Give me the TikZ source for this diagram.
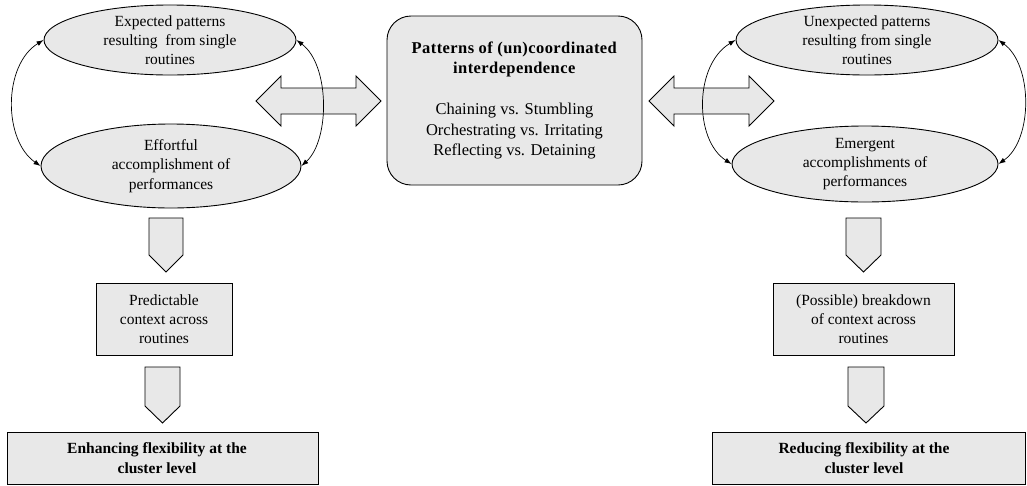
\documentclass[tikz,border=0pt]{standalone}
\usepackage{fontspec}
\setmainfont{Liberation Serif}
\usetikzlibrary{shapes.geometric,arrows.meta}
\definecolor{boxgray}{RGB}{232,232,232}
\begin{document}
\begin{tikzpicture}[x=1pt,y=-1pt,
  fillc/.style={fill=boxgray, draw=black, line width=0.9pt},
  txt/.style={align=center, font=\fontsize{15.5}{19.3}\selectfont},
  ell/.style={fillc, txt, ellipse, inner sep=0pt},
  rbox/.style={fillc, txt, rectangle, inner sep=0pt},
  dbl/.style={{Latex[length=7pt,width=5pt]}-{Latex[length=7pt,width=5pt]}, line width=0.7pt}
]
\useasboundingbox (0,0) rectangle (1027,485);

% left ellipses
\node[ell, minimum width=252pt, minimum height=70pt] (lt) at (170,40) {Expected patterns\\resulting\ \ from single\\routines};
\node[ell, minimum width=260pt, minimum height=84pt] (lb) at (171,166) {Effortful\\accomplishment of\\performances};

% right ellipses
\node[ell, minimum width=262pt, minimum height=70pt] (rt) at (867,40) {Unexpected patterns\\resulting from single\\routines};
\node[ell, minimum width=266pt, minimum height=76pt] (rb) at (865,164) {Emergent\\accomplishments of\\performances};

% center box
\node[fillc, align=center, font=\fontsize{16.5}{20.5}\selectfont, rectangle, rounded corners=24pt, minimum width=255pt, minimum height=169pt, inner sep=0pt] (c) at (514.5,100.5)
  {{\addfontfeature{LetterSpace=2.5}\textbf{Patterns of (un)coordinated}}\\{\addfontfeature{LetterSpace=2.5}\textbf{interdependence}}\\[20.5pt]Chaining vs. Stumbling\\Orchestrating vs. Irritating\\Reflecting vs. Detaining};

% double block arrows
\draw[fillc] (256,101) -- (281,76) -- (281,88) -- (356,88) -- (356,76) -- (381,101) -- (356,126) -- (356,114) -- (281,114) -- (281,126) -- cycle;
\draw[fillc] (649,101) -- (674,76) -- (674,88) -- (749,88) -- (749,76) -- (774,101) -- (749,126) -- (749,114) -- (674,114) -- (674,126) -- cycle;

% curved double-headed connectors
\draw[dbl] (lt.west) .. controls (3,65) and (3,140) .. (lb.west);
\draw[dbl] (lt.east) .. controls (330,65) and (330,140) .. (lb.east);
\draw[dbl] (rt.west) .. controls (694,65) and (694,140) .. (rb.west);
\draw[dbl] (rt.east) .. controls (1033,65) and (1033,140) .. (rb.east);

% left column
\draw[fillc] (149,218) -- (183,218) -- (183,255) -- (166,272) -- (149,255) -- cycle;
\node[rbox, minimum width=136pt, minimum height=72pt] (lp) at (164,319) {Predictable\\context across\\routines};
\draw[fillc] (145,367) -- (180,367) -- (180,406) -- (162.5,423) -- (145,406) -- cycle;
\node[rbox, minimum width=311pt, minimum height=52pt] (lf) at (162.5,458) {};
\node[align=center, font=\fontsize{15.5}{19.5}\selectfont\bfseries] (lft) at (157,458) {Enhancing flexibility at the\\cluster level};

% right column
\draw[fillc] (846,218) -- (881,218) -- (881,255) -- (863.5,272) -- (846,255) -- cycle;
\node[rbox, minimum width=181pt, minimum height=72pt] (rp) at (863.5,319) {(Possible) breakdown\\of context across\\routines};
\draw[fillc] (848,367) -- (884,367) -- (884,406) -- (866,423) -- (848,406) -- cycle;
\node[rbox, minimum width=313pt, minimum height=52pt] (rf) at (868.5,458) {};
\node[align=center, font=\fontsize{15.5}{19.5}\selectfont\bfseries] (rft) at (864,458) {Reducing flexibility at the\\cluster level};
\end{tikzpicture}
\end{document}
